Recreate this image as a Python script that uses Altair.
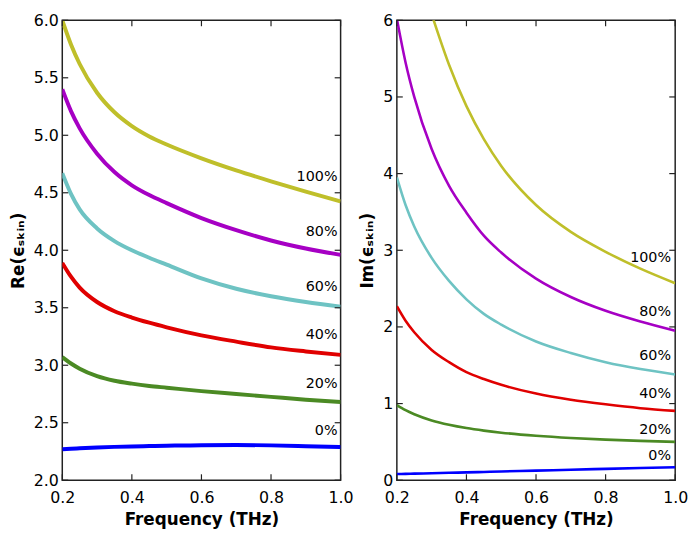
import altair as alt
import pandas as pd

# ---- data ----
FREQ = [0.2, 0.225, 0.25, 0.3, 0.35, 0.4, 0.45, 0.5, 0.6, 0.7, 0.8, 0.9, 1.0]
FREQ_IM_100 = [0.3, 0.35, 0.4, 0.45, 0.5, 0.6, 0.7, 0.8, 0.9, 1.0]

SERIES = ["100%", "80%", "60%", "40%", "20%", "0%"]
COLORS = ["#bfbf2a", "#a600c4", "#6ec3c3", "#e00000", "#4b8a24", "#0000ff"]

RE_100 = [6.00, 5.79, 5.62, 5.37, 5.20, 5.08, 4.99, 4.92, 4.80, 4.695, 4.60, 4.51, 4.425]
RE_80 = [5.40, 5.21, 5.06, 4.84, 4.68, 4.565, 4.48, 4.41, 4.28, 4.175, 4.085, 4.015, 3.96]
RE_60 = [4.67, 4.49, 4.355, 4.19, 4.08, 4.00, 3.935, 3.875, 3.755, 3.665, 3.60, 3.55, 3.51]
RE_40 = [3.89, 3.77, 3.675, 3.55, 3.47, 3.415, 3.37, 3.33, 3.26, 3.205, 3.155, 3.12, 3.09]
RE_20 = [3.07, 3.015, 2.97, 2.905, 2.865, 2.84, 2.82, 2.805, 2.775, 2.75, 2.725, 2.70, 2.68]
RE_0 = [2.27, 2.274, 2.278, 2.285, 2.29, 2.294, 2.297, 2.30, 2.305, 2.306, 2.303, 2.296, 2.288]

IM_100 = [6.08, 5.42, 4.88, 4.45, 4.10, 3.59, 3.24, 2.98, 2.76, 2.57]
IM_80 = [6.02, 5.45, 5.00, 4.32, 3.84, 3.49, 3.19, 2.97, 2.63, 2.39, 2.21, 2.07, 1.95]
IM_60 = [3.95, 3.59, 3.31, 2.90, 2.60, 2.36, 2.17, 2.03, 1.81, 1.66, 1.54, 1.45, 1.38]
IM_40 = [2.27, 2.08, 1.93, 1.70, 1.54, 1.41, 1.32, 1.245, 1.13, 1.05, 0.99, 0.94, 0.905]
IM_20 = [0.98, 0.913, 0.86, 0.78, 0.723, 0.68, 0.647, 0.62, 0.58, 0.551, 0.53, 0.513, 0.50]
IM_0 = [0.08, 0.083, 0.086, 0.091, 0.097, 0.102, 0.108, 0.114, 0.125, 0.137, 0.148, 0.159, 0.17]

LABEL_RE_X = 0.991
LABEL_RE_Y = [4.64, 4.16, 3.68, 3.26, 2.84, 2.43]
LABEL_IM_X = 0.988
LABEL_IM_Y = [2.90, 2.19, 1.62, 1.12, 0.66, 0.31]

X_TICKS = [0.2, 0.4, 0.6, 0.8, 1.0]
RE_TICKS = [2.0, 2.5, 3.0, 3.5, 4.0, 4.5, 5.0, 5.5, 6.0]
IM_TICKS = [0, 1, 2, 3, 4, 5, 6]

W, H = 282, 466
FRAME = "#222222"
FONT = "DejaVu Sans"


def long_df(xs_list, ys_list):
    rows = []
    for name, xs, ys in zip(SERIES, xs_list, ys_list):
        for xv, yv in zip(xs, ys):
            rows.append({"freq": xv, "value": yv, "series": name})
    return pd.DataFrame(rows)


re_df = long_df([FREQ] * 6, [RE_100, RE_80, RE_60, RE_40, RE_20, RE_0])
im_df = long_df([FREQ_IM_100] + [FREQ] * 5, [IM_100, IM_80, IM_60, IM_40, IM_20, IM_0])
re_lab = pd.DataFrame({"freq": [LABEL_RE_X] * 6, "value": LABEL_RE_Y, "series": SERIES})
im_lab = pd.DataFrame({"freq": [LABEL_IM_X] * 6, "value": LABEL_IM_Y, "series": SERIES})


def panel(df, lab, y_title, y_domain, y_ticks, y_fmt, sw):
    x = alt.X("freq:Q", scale=alt.Scale(domain=[0.2, 1.0], nice=False, zero=False),
              axis=alt.Axis(values=X_TICKS, format=".1f", title="Frequency (THz)",
                            labelFlush=False))
    y = alt.Y("value:Q", scale=alt.Scale(domain=y_domain, nice=False, zero=False),
              axis=alt.Axis(values=y_ticks, format=y_fmt, title=y_title, labelFlush=False))
    lines = alt.Chart(df).mark_line(interpolate="monotone", strokeWidth=sw, clip=True).encode(
        x=x, y=y,
        color=alt.Color("series:N", scale=alt.Scale(domain=SERIES, range=COLORS), legend=None),
    )
    text = alt.Chart(lab).mark_text(align="right", baseline="middle", fontSize=14.5,
                                    font=FONT, color="black").encode(x=x, y=y, text="series:N")
    xt = pd.DataFrame({"freq": X_TICKS})
    yt = pd.DataFrame({"value": y_ticks})
    bottom = alt.Chart(xt).mark_rule(color=FRAME, strokeWidth=1.2).encode(
        x=x, y=alt.value(H), y2=alt.value(H - 6))
    top = alt.Chart(xt).mark_rule(color=FRAME, strokeWidth=1.2).encode(
        x=x, y=alt.value(0), y2=alt.value(6))
    left = alt.Chart(yt).mark_rule(color=FRAME, strokeWidth=1.2).encode(
        y=y, x=alt.value(0), x2=alt.value(6))
    right = alt.Chart(yt).mark_rule(color=FRAME, strokeWidth=1.2).encode(
        y=y, x=alt.value(W), x2=alt.value(W - 6))
    return alt.layer(lines, text, bottom, top, left, right).properties(width=W, height=H)


re_panel = panel(re_df, re_lab, "Re(ϵₛₖᵢₙ)", [2, 6], RE_TICKS, ".1f", 4)
im_panel = panel(im_df, im_lab, "Im(ϵₛₖᵢₙ)", [0, 6], IM_TICKS, "d", 2.6)

chart = alt.hconcat(re_panel, im_panel, spacing=57, bounds="flush").properties(
    padding=0
).configure_view(
    stroke=FRAME, strokeWidth=1.5
).configure_axis(
    labelFont=FONT, labelFontSize=16, labelColor="black",
    titleFont=FONT, titleFontSize=17, titleFontWeight="bold", titleColor="black",
    domain=False, ticks=False, grid=False,
).configure_axisX(
    labelPadding=10, titlePadding=6
).configure_axisY(
    labelPadding=4, titlePadding=6
)

chart.save("out.html", embed_options={"renderer": "svg", "actions": False})
